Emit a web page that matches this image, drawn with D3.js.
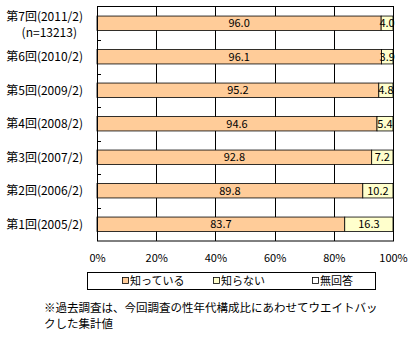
<!DOCTYPE html>
<html>
<head>
<meta charset="utf-8">
<script src="https://cdn.jsdelivr.net/npm/d3@7/dist/d3.min.js"></script>
<style>
  html, body { margin: 0; padding: 0; background: #fff; }
  svg { display: block; }
  text { font-family: "Noto Sans CJK JP", "Noto Sans", sans-serif; fill: #000; }
</style>
</head>
<body>
<svg id="chart" width="409" height="341"></svg>
<script>
// Survey rounds, top to bottom
const rounds = ["第7回(2011/2)", "第6回(2010/2)", "第5回(2009/2)", "第4回(2008/2)", "第3回(2007/2)", "第2回(2006/2)", "第1回(2005/2)"];
const sampleNote = "(n=13213)";
// Share of respondents (%)
const knows = [96.0, 96.1, 95.2, 94.6, 92.8, 89.8, 83.7];
const doesNotKnow = [4.0, 3.9, 4.8, 5.4, 7.2, 10.2, 16.3];
const noAnswer = [0, 0, 0, 0, 0, 0, 0];
const seriesNames = ["知っている", "知らない", "無回答"];
const seriesColors = ["#FFCC99", "#FFFFCC", "#FFFFFF"];
const xTicks = [0, 20, 40, 60, 80, 100];
const footnote = ["※過去調査は、今回調査の性年代構成比にあわせてウエイトバッ", "クした集計値"];

const rows = rounds.map((r, i) => ({ round: r, s0: knows[i], s1: doesNotKnow[i], s2: noAnswer[i] }));
const keys = ["s0", "s1", "s2"];
const stacked = d3.stack().keys(keys)(rows);

const svg = d3.select("#chart");
const plot = { left: 97, right: 393, top: 6.5, bottom: 241 };

const x = d3.scaleLinear().domain([0, 100]).range([plot.left, plot.right]);
const y = d3.scaleBand().domain(rounds).range([plot.top, plot.bottom])
  .paddingInner(0.57).paddingOuter(0.285);

// vertical gridlines
svg.append("g").selectAll("line").data(xTicks.slice(1, -1)).join("line")
  .attr("x1", d => Math.round(x(d)) + 0.5).attr("x2", d => Math.round(x(d)) + 0.5)
  .attr("y1", plot.top).attr("y2", plot.bottom)
  .attr("stroke", "#000").attr("stroke-width", 1);

// stacked bars
const segs = svg.append("g").selectAll("g").data(stacked).join("g")
  .attr("fill", (d, i) => seriesColors[i]);
segs.selectAll("rect").data(d => d.filter(p => p[1] - p[0] > 0)).join("rect")
  .attr("x", d => x(d[0]))
  .attr("width", d => x(d[1]) - x(d[0]))
  .attr("y", d => y(d.data.round))
  .attr("height", y.bandwidth())
  .attr("stroke", "#000").attr("stroke-width", 0.8);

// value labels in each segment
stacked.slice(0, 2).forEach(layer => {
  svg.append("g").selectAll("text").data(layer).join("text")
    .attr("x", d => (x(d[0]) + x(d[1])) / 2)
    .attr("y", d => y(d.data.round) + y.bandwidth() / 2)
    .attr("dy", "0.36em")
    .attr("text-anchor", "middle")
    .attr("font-size", 11)
    .text(d => (d[1] - d[0]).toFixed(1));
});

// plot frame
svg.append("rect")
  .attr("x", plot.left + 0.5).attr("y", plot.top)
  .attr("width", plot.right - plot.left).attr("height", plot.bottom - plot.top)
  .attr("fill", "none").attr("stroke", "#000").attr("stroke-width", 1);

// category axis with inward ticks at band boundaries
const yAxis = svg.append("g");
const bounds = rounds.slice(1).map(r => y(r) - y.step() * y.paddingInner() / 2);
yAxis.selectAll("line").data(bounds).join("line")
  .attr("x1", plot.left).attr("x2", plot.left + 4)
  .attr("y1", d => Math.round(d) + 0.5).attr("y2", d => Math.round(d) + 0.5)
  .attr("stroke", "#000");
rounds.forEach((r, i) => {
  const cy = y(r) + y.bandwidth() / 2;
  const t = yAxis.append("text").attr("x", 83).attr("text-anchor", "end").attr("font-size", 12);
  if (i === 0) {
    t.attr("y", cy - 7).attr("dy", "0.36em").text(r);
    yAxis.append("text").attr("x", 77).attr("text-anchor", "end").attr("font-size", 12)
      .attr("y", cy + 9).attr("dy", "0.36em").text(sampleNote);
  } else {
    t.attr("y", cy).attr("dy", "0.36em").text(r);
  }
});

// percentage axis
const xAxis = d3.axisBottom(x).tickValues(xTicks).tickSize(0).tickPadding(0)
  .tickFormat(d => d + "%");
const xg = svg.append("g").attr("transform", `translate(0, 258)`).call(xAxis);
xg.select(".domain").remove();
xg.selectAll("text").attr("font-size", 11).attr("dy", "0.36em").attr("y", 0)
  .attr("font-family", "\"Noto Sans CJK JP\", sans-serif");

// legend
const legend = svg.append("g");
legend.append("rect").attr("x", 87.5).attr("y", 272.5).attr("width", 288).attr("height", 17)
  .attr("fill", "#fff").attr("stroke", "#000");
const legendX = [122, 213, 312];
seriesNames.forEach((name, i) => {
  legend.append("rect").attr("x", legendX[i] + 0.5).attr("y", 277.5).attr("width", 6).attr("height", 6)
    .attr("fill", seriesColors[i]).attr("stroke", "#000").attr("stroke-width", 0.8);
  legend.append("text").attr("x", legendX[i] + 8).attr("y", 281).attr("dy", "0.36em")
    .attr("font-size", 11).text(name);
});

// footnote
svg.append("g").selectAll("text").data(footnote).join("text")
  .attr("x", 44).attr("y", (d, i) => 308 + i * 16).attr("dy", "0.36em")
  .attr("font-size", 11.5).text(d => d);
</script>
</body>
</html>
